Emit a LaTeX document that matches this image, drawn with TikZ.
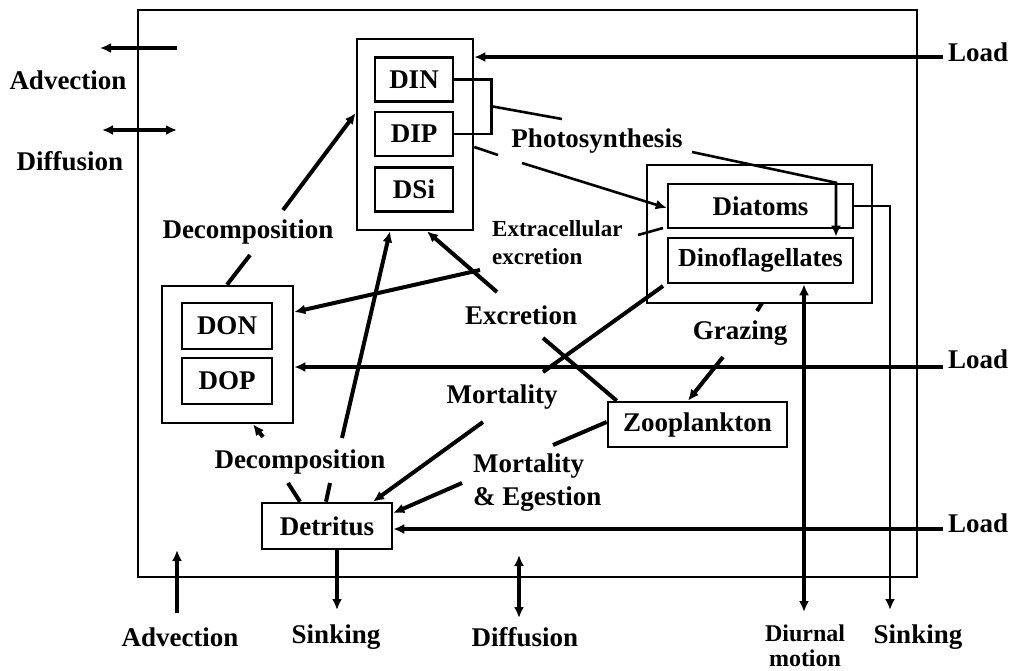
\documentclass[tikz,border=0pt]{standalone}
\usepackage{fontspec}
\setmainfont{Liberation Serif}
\usetikzlibrary{arrows.meta}

\begin{document}
\begin{tikzpicture}[x=1pt,y=-1pt,>={Latex[length=11pt,width=10pt]},
  lbl/.style={font=\fontsize{27}{30}\selectfont\bfseries,inner sep=0pt},
  box/.style={draw,line width=2.6pt,inner sep=0pt,font=\fontsize{27}{30}\selectfont\bfseries},
  pool/.style={box,minimum width=78,minimum height=44},
  flow/.style={line width=4pt},
  link/.style={line width=2.6pt}]
  \useasboundingbox (0,0) rectangle (1016,670);
  % water column
  \node[draw,line width=2.2pt,minimum width=779,minimum height=567] (domain) at (527.5,293.5) {};

  % inorganic nutrients
  \node[box,minimum width=116,minimum height=191] (dinbox) at (415,134.5) {};
  \node[pool] (din) at (414,79.5) {DIN};
  \node[pool] (dip) at (414,134) {DIP};
  \node[pool] (dsi) at (414,189.5) {DSi};
  % organic nutrients
  \node[box,minimum width=131,minimum height=137] (donbox) at (227.5,354.5) {};
  \node[pool,minimum width=90,minimum height=46] (don) at (227,326) {DON};
  \node[pool,minimum width=90,minimum height=46] (dop) at (227,381) {DOP};
  % plankton and detritus
  \node[box,minimum width=225,minimum height=138] (phyto) at (759.5,234) {};
  \node[box,minimum width=185,minimum height=44] (diatoms) at (760.5,206) {Diatoms};
  \node[box,minimum width=185,minimum height=45,font=\fontsize{26}{28}\selectfont\bfseries] (dino) at (760.5,260.5) {Dinoflagellates};
  \node[box,minimum width=179,minimum height=45] (zoo) at (697.5,424.5) {Zooplankton};
  \node[box,minimum width=130,minimum height=46] (detritus) at (327,526) {Detritus};

  % process labels
  \node[lbl] (advL) at (68,80) {Advection};
  \node[lbl] (difL) at (70,161) {Diffusion};
  \node[lbl] (decoU) at (248,232) {Decomposition};
  \node[lbl] (photoL) at (597,141) {Photosynthesis};
  \node[lbl,font=\fontsize{23}{28}\selectfont\bfseries,align=left,anchor=west] (extraL) at (492,243) {Extracellular\\excretion};
  \node[lbl] (excrL) at (521,315) {Excretion};
  \node[lbl] (grazL) at (740,333) {Grazing};
  \node[lbl] (mortL) at (502,397) {Mortality};
  \node[lbl,font=\fontsize{27}{33}\selectfont\bfseries,align=left,anchor=west] (megL) at (473,483) {Mortality\\\& Egestion};
  \node[lbl] (decoL) at (300,462) {Decomposition};
  \node[lbl,anchor=west] (loadA) at (948,52) {Load};
  \node[lbl,anchor=west] (loadB) at (948,359) {Load};
  \node[lbl,anchor=west] (loadC) at (948,523) {Load};
  \node[lbl] (advB) at (180,637) {Advection};
  \node[lbl] (sinkB) at (336,637) {Sinking};
  \node[lbl] (difB) at (525,637) {Diffusion};
  \node[lbl,font=\fontsize{24}{25}\selectfont\bfseries,align=center,anchor=north] (diurL) at (805,625) {Diurnal\\motion};
  \node[lbl] (sinkR) at (918,637) {Sinking};

  % exchange across the boundaries
  \draw[flow,->] (177,48) -- (100,48);
  \draw[flow,<->] (102,130) -- (177,130);
  \draw[flow,->] (177,613) -- (177,550);
  \draw[flow,<->] (519,555) -- (519,618);
  % loads
  \draw[flow,->] (943,57) -- (dinbox.east |- 0,57);
  \draw[flow,->] (943,367) -- (donbox.east |- 0,367);
  \draw[flow,->] (943,529) -- (detritus.east |- 0,529);

  % photosynthesis
  \draw[link] (din.east) -- ++(37,0) |- (dip.east);
  \draw[link] (490,106) -- (562,119);
  \draw[link,->] (692,152) -- (diatoms.north -| 836,0) -- (dino.north -| 836,0);
  \draw[link] (dinbox.east |- 0,147) -- (498,155);
  \draw[link,->] (522,163) -- (diatoms.west |- 0,208);
  % sinking and vertical motion
  \draw[link,->] (diatoms.east) -| (890,610);
  \draw[flow,<->] (dino.south -| 804,0) -- (804,612);
  \draw[flow,->] (detritus.south -| 337,0) -- (337,610);

  % excretion
  \draw[link] (638,235) -- (663,228);
  \draw[flow,->] (480,270) -- (donbox.east |- 0,312);
  \draw[flow] ([xshift=10pt]zoo.north west) -- (543,338);
  \draw[flow,->] (497,292) -- (dinbox.south -| 427,0);
  % mortality
  \draw[flow] (663,286) -- (543,372);
  \draw[flow,->] (483,422) -- (detritus.north -| 373,0);
  \draw[flow] (zoo.west |- 0,422) -- (553,445);
  \draw[flow,->] (462,483) -- (detritus.east |- 0,513);
  % grazing
  \draw[flow] (762,303) -- (757,311);
  \draw[flow,->] (723,357) -- (zoo.north -| 688,0);
  % decomposition
  \draw[flow,->] (283,210) -- (dinbox.west |- 0,113);
  \draw[flow] (250,255) -- (donbox.north -| 227,0);
  \draw[flow] (detritus.north -| 300,0) -- (288,483);
  \draw[flow] (detritus.north -| 326,0) -- (330,483);
  \draw[flow,->] (263,437) -- (donbox.south -| 253,0);
  \draw[flow,->] (342,438) -- (dinbox.south -| 390,0);
\end{tikzpicture}
\end{document}
